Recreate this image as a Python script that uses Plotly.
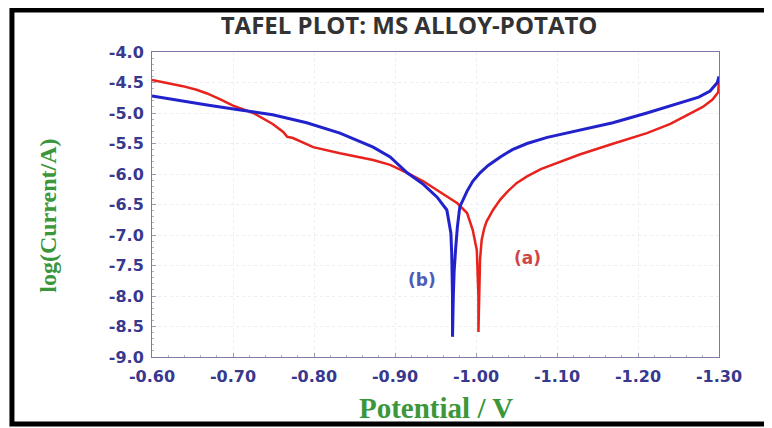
import plotly.graph_objects as go

# Curve (a) red
a_potential = [-0.600, -0.620, -0.638, -0.655, -0.668, -0.685, -0.700, -0.725, -0.749, -0.762,
               -0.767, -0.774, -0.799, -0.832, -0.873, -0.894, -0.915, -0.935, -0.956, -0.977,
               -0.989, -0.996, -1.001, -1.003, -1.003, -1.004, -1.005, -1.007, -1.010, -1.013,
               -1.021, -1.030, -1.038, -1.050, -1.063, -1.080, -1.104, -1.128, -1.170, -1.211,
               -1.240, -1.264, -1.280, -1.292, -1.299, -1.300]
a_logI = [-4.46, -4.51, -4.56, -4.62, -4.68, -4.78, -4.88, -5.00, -5.18, -5.31,
          -5.39, -5.41, -5.56, -5.66, -5.77, -5.85, -5.98, -6.12, -6.30, -6.48,
          -6.64, -6.92, -7.25, -8.00, -8.59, -8.00, -7.40, -7.08, -6.90, -6.78,
          -6.59, -6.42, -6.30, -6.15, -6.04, -5.92, -5.80, -5.68, -5.50, -5.33,
          -5.18, -5.02, -4.90, -4.78, -4.66, -4.45]

# Curve (b) blue
b_potential = [-0.600, -0.630, -0.668, -0.709, -0.749, -0.791, -0.832, -0.873, -0.894, -0.915,
               -0.935, -0.952, -0.964, -0.969, -0.970, -0.971, -0.971, -0.972, -0.973, -0.975,
               -0.977, -0.980, -0.985, -0.989, -0.996, -1.005, -1.015, -1.030, -1.045, -1.063,
               -1.088, -1.130, -1.169, -1.211, -1.252, -1.275, -1.289, -1.298, -1.300]
b_logI = [-4.72, -4.79, -4.87, -4.95, -5.03, -5.16, -5.33, -5.56, -5.72, -5.98,
          -6.17, -6.38, -6.59, -6.97, -7.30, -8.00, -8.67, -8.00, -7.60, -7.20,
          -6.87, -6.54, -6.38, -6.28, -6.12, -5.98, -5.86, -5.72, -5.60, -5.50,
          -5.40, -5.28, -5.16, -5.00, -4.84, -4.74, -4.64, -4.50, -4.40]

x_ticks = [-0.60, -0.70, -0.80, -0.90, -1.00, -1.10, -1.20, -1.30]
x_labels = ["-0.60", "-0.70", "-0.80", "-0.90", "-1.00", "-1.10", "-1.20", "-1.30"]
y_ticks = [-4.0, -4.5, -5.0, -5.5, -6.0, -6.5, -7.0, -7.5, -8.0, -8.5, -9.0]
y_labels = ["-4.0", "-4.5", "-5.0", "-5.5", "-6.0", "-6.5", "-7.0", "-7.5", "-8.0", "-8.5", "-9.0"]

fig = go.Figure()
fig.add_trace(go.Scatter(x=a_potential, y=a_logI, mode="lines",
                         line=dict(color="#e8231d", width=2.5), name="(a)"))
fig.add_trace(go.Scatter(x=b_potential, y=b_logI, mode="lines",
                         line=dict(color="#2222cc", width=3), name="(b)"))

fig.add_annotation(x=-0.933, y=-7.74, text="(b)", showarrow=False,
                   font=dict(family="DejaVu Sans", size=17, color="#4e5cb8", weight="bold"))
fig.add_annotation(x=-1.063, y=-7.38, text="(a)", showarrow=False,
                   font=dict(family="DejaVu Sans", size=17, color="#d04646", weight="bold"))

tick_font = dict(family="DejaVu Sans", size=16, color="#38388e", weight="bold")
axis_common = dict(showline=True, linecolor="#7a7aa8", linewidth=1, mirror=True,
                   ticks="inside", ticklen=4, tickcolor="#9a9ab8",
                   showgrid=True, gridcolor="#ededf4", gridwidth=1, griddash="dot",
                   tickfont=tick_font, zeroline=False)

fig.update_xaxes(range=[-0.6, -1.3], tickvals=x_ticks, ticktext=x_labels, ticklabelstandoff=5,
                 minor=dict(dtick=0.02, ticks="inside", ticklen=2, tickcolor="#b0b0c8", showgrid=False),
                 **axis_common)
fig.update_yaxes(range=[-9, -4], tickvals=y_ticks, ticktext=y_labels, ticklabelstandoff=4,
                 minor=dict(dtick=0.1, ticks="inside", ticklen=2, tickcolor="#b0b0c8", showgrid=False),
                 **axis_common)

fig.add_annotation(xref="paper", yref="paper", x=0.5, y=-0.167, text="Potential / V",
                   showarrow=False, xanchor="center", yanchor="middle",
                   font=dict(family="Liberation Serif", size=29, color="#3c963c", weight="bold"))
fig.add_annotation(xref="paper", yref="paper", x=-0.183, y=0.464, text="log(Current/A)",
                   showarrow=False, xanchor="center", yanchor="middle", textangle=-90,
                   font=dict(family="Liberation Serif", size=24, color="#3c963c", weight="bold"))

fig.add_shape(type="rect", xref="paper", yref="paper",
              x0=-0.247, x1=1.086, y0=-0.220, y1=1.138,
              line=dict(color="black", width=5), fillcolor="rgba(0,0,0,0)", layer="above")

fig.update_layout(
    width=764, height=420,
    margin=dict(l=144, r=53, t=44, b=71),
    paper_bgcolor="white", plot_bgcolor="white",
    showlegend=False,
    title=dict(text="TAFEL PLOT: MS ALLOY-POTATO", x=0.525, xanchor="center",
               y=0.957, yanchor="middle",
               font=dict(family="Open Sans", size=24, color="#333333", weight="bold")),
)

fig.write_html("out.html")
